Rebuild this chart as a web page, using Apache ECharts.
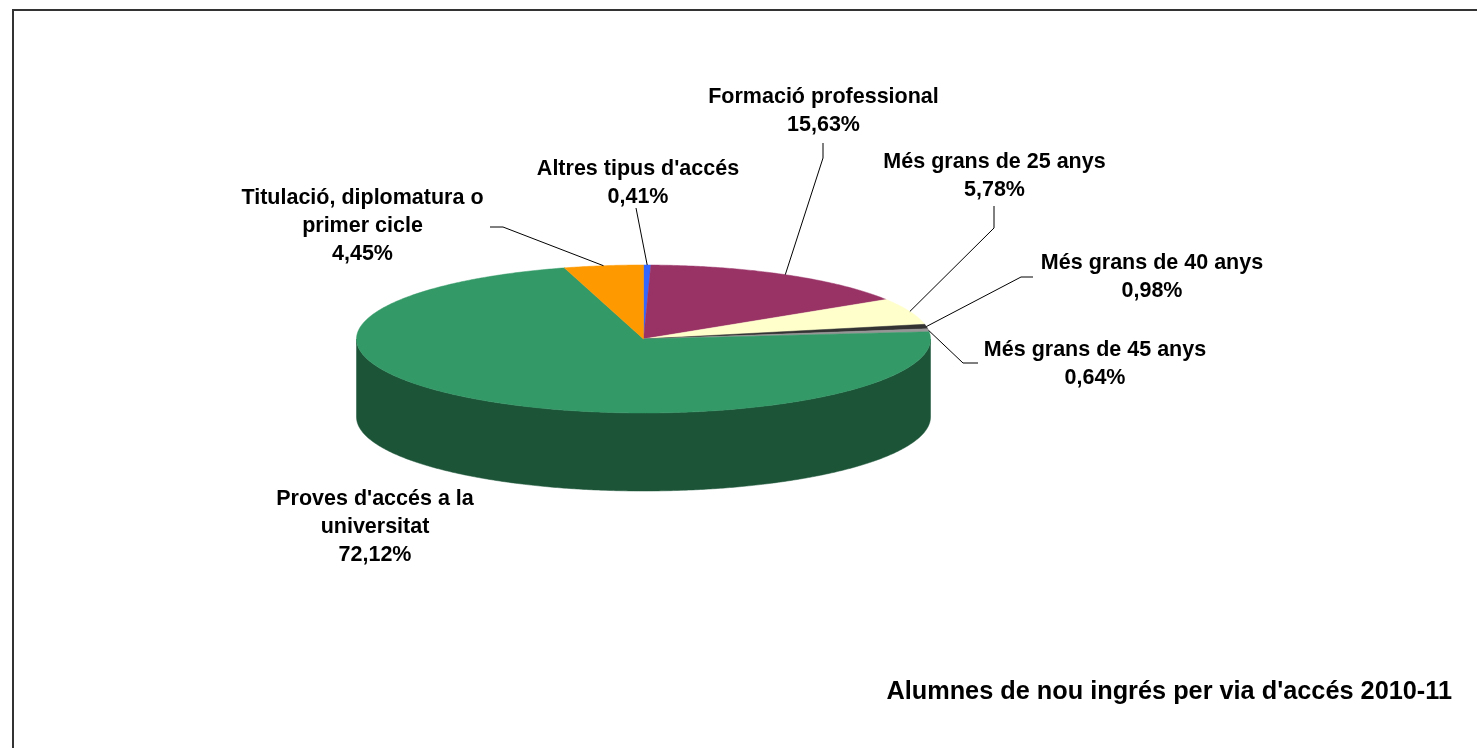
<!DOCTYPE html>
<html>
<head>
<meta charset="utf-8">
<script src="https://cdn.jsdelivr.net/npm/echarts@6/dist/echarts.min.js"></script>
<style>
html,body{margin:0;padding:0;background:#fff;}
#chart{width:1477px;height:748px;}
</style>
</head>
<body>
<div id="chart"></div>
<script>
// ---- data ----
const categories = ["Altres tipus d'accés", "Formació professional", "Més grans de 25 anys", "Més grans de 40 anys", "Més grans de 45 anys", "Proves d'accés a la universitat", "Titulació, diplomatura o primer cicle"];
const labelNames = ["Altres tipus d'accés", "Formació professional", "Més grans de 25 anys", "Més grans de 40 anys", "Més grans de 45 anys", "Proves d'accés a la\nuniversitat", "Titulació, diplomatura o\nprimer cicle"];
const values = [0.41, 15.63, 5.78, 0.98, 0.64, 72.12, 4.45];
const titleText = "Alumnes de nou ingrés per via d'accés 2010-11";

// ---- style / layout ----
const colors = ['#3366FF', '#993366', '#FFFFCC', '#333333', '#969696', '#339966', '#FF9900'];
const CX = 643.5, CY = 339, RX = 287, RY = 74, DEPTH = 78;
const FONT = '"Liberation Sans", Arial, sans-serif';
const labelLayout = [
  { x: 638, y: 183, line: [[636, 208]] },
  { x: 823.5, y: 111, line: [[823, 143], [823, 158]] },
  { x: 994.5, y: 176, line: [[994, 206], [994, 228]] },
  { x: 1152, y: 277.5, line: [[1033, 277], [1021, 277]] },
  { x: 1095, y: 364.5, line: [[978, 363], [963, 363]] },
  { x: 375, y: 527, line: null },
  { x: 362.5, y: 226, line: [[490, 227], [503, 227]] }
];

const total = values.reduce((a, b) => a + b, 0);
const starts = [];
(function () { let acc = 0; values.forEach(v => { starts.push(acc); acc += v; }); })();

function pt(deg, dy) {
  const r = deg * Math.PI / 180;
  return [CX + RX * Math.sin(r), CY - RY * Math.cos(r) + (dy || 0)];
}
function darken(hex, f) {
  const n = parseInt(hex.slice(1), 16);
  const r = Math.round(((n >> 16) & 255) * f), g = Math.round(((n >> 8) & 255) * f), b = Math.round((n & 255) * f);
  return 'rgb(' + r + ',' + g + ',' + b + ')';
}
function angles(i, v) {
  const a0 = starts[i] / total * 360;
  return [a0, a0 + v / total * 360];
}
function arc(a0, a1, dy) {
  const pts = [];
  for (let a = a0; a < a1; a += 0.5) pts.push(pt(a, dy));
  pts.push(pt(a1, dy));
  return pts;
}

const seriesData = values.map((v, i) => ({ value: v, name: categories[i] }));

const chart = echarts.init(document.getElementById('chart'), null, { renderer: 'canvas' });
chart.setOption({
  animation: false,
  backgroundColor: '#ffffff',
  title: {
    text: titleText,
    right: 20,
    top: 672,
    textStyle: { fontFamily: FONT, fontSize: 25.3, fontWeight: 'bold', color: '#000', lineHeight: 30 }
  },
  graphic: [{
    type: 'rect', silent: true,
    shape: { x: 13, y: 10, width: 1600, height: 900 },
    style: { fill: 'none', stroke: '#333', lineWidth: 2 }
  }],
  series: [
    {
      type: 'custom', coordinateSystem: 'none', silent: true, data: seriesData,
      renderItem: function (params, api) {
        const i = params.dataIndex;
        const [a0, a1] = angles(i, api.value(0));
        const lo = Math.max(a0, 90), hi = Math.min(a1, 270);
        if (hi <= lo) return { type: 'group', children: [] };
        const top = arc(lo, hi, 0);
        const bottom = arc(lo, hi, DEPTH).reverse();
        return {
          type: 'polygon',
          shape: { points: top.concat(bottom) },
          style: { fill: darken(colors[i], 0.55), stroke: darken(colors[i], 0.55), lineWidth: 0.5 }
        };
      }
    },
    {
      type: 'custom', coordinateSystem: 'none', silent: true, data: seriesData,
      renderItem: function (params, api) {
        const i = params.dataIndex;
        const [a0, a1] = angles(i, api.value(0));
        const pts = [[CX, CY]].concat(arc(a0, a1, 0));
        return {
          type: 'polygon',
          shape: { points: pts },
          style: { fill: colors[i], stroke: colors[i], lineWidth: 0.5 }
        };
      }
    },
    {
      type: 'custom', coordinateSystem: 'none', silent: true, data: seriesData,
      renderItem: function (params, api) {
        const i = params.dataIndex;
        const v = api.value(0);
        const [a0, a1] = angles(i, v);
        const lay = labelLayout[i];
        const children = [{
          type: 'text',
          style: {
            text: labelNames[i] + '\n' + v.toFixed(2).replace('.', ',') + '%',
            x: lay.x, y: lay.y,
            align: 'center', verticalAlign: 'middle',
            fontFamily: FONT, fontSize: 21.5, fontWeight: 'bold',
            lineHeight: 28, fill: '#000'
          }
        }];
        if (lay.line) {
          children.push({
            type: 'polyline',
            shape: { points: lay.line.concat([pt((a0 + a1) / 2, 0)]) },
            style: { fill: 'none', stroke: '#000', lineWidth: 1 }
          });
        }
        return { type: 'group', children: children };
      }
    }
  ]
});
</script>
</body>
</html>
